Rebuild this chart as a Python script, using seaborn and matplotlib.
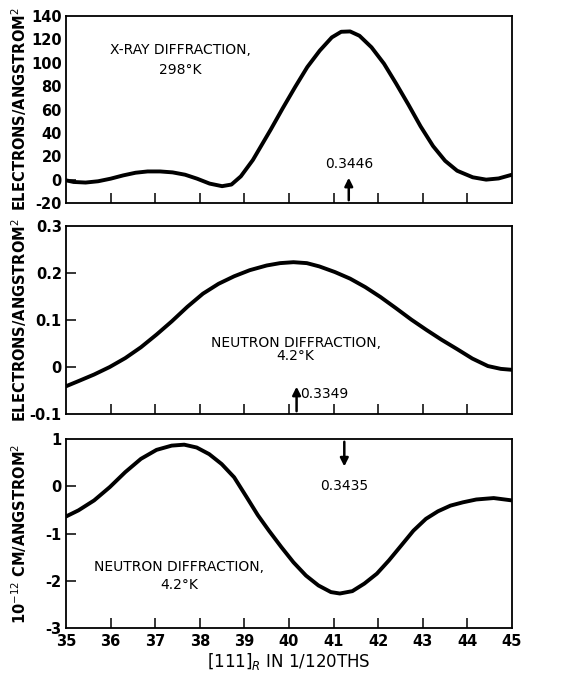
import numpy as np
import pandas as pd
import matplotlib.pyplot as plt
import seaborn as sns

# --- data ---

# X-ray diffraction, 298 K (electrons / A^2)
xray_x = [35.0, 35.17, 35.44, 35.72, 36.0, 36.28, 36.56, 36.83, 37.11, 37.39,
          37.67, 37.94, 38.22, 38.5, 38.71, 38.92, 39.19, 39.47, 39.59, 39.86,
          40.14, 40.41, 40.69, 40.96, 41.17, 41.37, 41.58, 41.85, 42.13, 42.4,
          42.68, 42.95, 43.23, 43.5, 43.77, 44.12, 44.42, 44.7, 45.0]
xray_y = [-0.6, -2.0, -2.5, -1.4, 0.8, 3.6, 5.9, 7.0, 7.0, 6.2,
          4.2, 0.8, -3.4, -5.6, -4.2, 2.8, 16.8, 35.0, 42.8, 61.1,
          79.4, 96.3, 110.4, 121.7, 126.5, 126.8, 123.1, 113.2, 99.2, 82.3,
          64.0, 45.6, 28.7, 16.1, 7.6, 2.0, 0.0, 1.0, 4.2]

# neutron diffraction, 4.2 K (electrons / A^2)
neut_x = [35.0, 35.28, 35.63, 35.98, 36.33, 36.68, 37.03, 37.37, 37.72, 38.07,
          38.42, 38.77, 39.12, 39.5, 39.8, 40.1, 40.4, 40.68, 41.03, 41.37,
          41.71, 42.05, 42.4, 42.74, 43.08, 43.42, 43.77, 44.11, 44.46, 44.75, 45.0]
neut_y = [-0.041, -0.030, -0.016, 0.0, 0.019, 0.042, 0.069, 0.097, 0.128, 0.156,
          0.177, 0.193, 0.206, 0.216, 0.221, 0.223, 0.221, 0.214, 0.202, 0.188,
          0.170, 0.149, 0.125, 0.101, 0.079, 0.058, 0.038, 0.018, 0.002, -0.004, -0.006]

# neutron diffraction, 4.2 K (1e-12 cm / A^2)
scat_x = [35.0, 35.28, 35.63, 35.98, 36.33, 36.68, 37.03, 37.37, 37.65, 37.93,
          38.21, 38.49, 38.77, 39.05, 39.3, 39.55, 39.83, 40.1, 40.38, 40.66,
          40.94, 41.14, 41.42, 41.69, 41.97, 42.24, 42.52, 42.79, 43.07, 43.34,
          43.62, 43.9, 44.2, 44.59, 45.0]
scat_y = [-0.64, -0.51, -0.30, -0.02, 0.30, 0.58, 0.77, 0.86, 0.88, 0.82,
          0.68, 0.47, 0.19, -0.23, -0.61, -0.94, -1.29, -1.61, -1.89, -2.10,
          -2.24, -2.27, -2.22, -2.06, -1.85, -1.57, -1.25, -0.94, -0.69, -0.53,
          -0.41, -0.34, -0.28, -0.25, -0.30]

# marked positions (arrows) and their labels
arrow_x = [41.34, 40.17, 41.24]
arrow_labels = ["0.3446", "0.3349", "0.3435"]

xticks = list(range(35, 46))
yticks_top = [-20, 0, 20, 40, 60, 80, 100, 120, 140]
yticks_mid = [-0.1, 0, 0.1, 0.2, 0.3]
yticklabels_mid = ["-0.1", "0", "0.1", "0.2", "0.3"]
yticks_bot = [-3, -2, -1, 0, 1]

sns.set_style("ticks")
plt.rcParams["font.family"] = ["DejaVu Sans"]
plt.rcParams["text.color"] = "black"
plt.rcParams["axes.labelcolor"] = "black"
plt.rcParams["xtick.color"] = "black"
plt.rcParams["ytick.color"] = "black"
plt.rcParams["axes.edgecolor"] = "black"

fig = plt.figure(figsize=(5.66, 6.75), dpi=100)
left, width = 66 / 566, 446 / 566
ax1 = fig.add_axes([left, 1 - 203 / 675, width, 187 / 675])
ax2 = fig.add_axes([left, 1 - 414 / 675, width, 188 / 675])
ax3 = fig.add_axes([left, 1 - 628 / 675, width, 189 / 675])

lw = 2.8
sns.lineplot(x=xray_x, y=xray_y, ax=ax1, color="black", lw=lw)
sns.lineplot(x=neut_x, y=neut_y, ax=ax2, color="black", lw=lw)
sns.lineplot(x=scat_x, y=scat_y, ax=ax3, color="black", lw=lw)

tick_font = dict(fontsize=10.5, fontweight="bold")
ann_font = dict(fontsize=10)
ylab_font = dict(fontsize=10.5, fontweight="bold")
arrow_style = dict(arrowstyle="-|>", color="black", lw=1.8, mutation_scale=12)

for ax in (ax1, ax2, ax3):
    ax.set_xlim(35, 45)
    ax.set_xticks(xticks)
    ax.tick_params(axis="both", direction="in", length=7, width=1.1, pad=3)
    for s in ax.spines.values():
        s.set_linewidth(1.3)
    ax.set_xlabel("")
    ax.lines[0].set_solid_joinstyle("round")
    ax.lines[0].set_solid_capstyle("round")

# top panel
ax1.set_ylim(-20, 140)
ax1.set_yticks(yticks_top)
ax1.set_yticklabels([str(v) for v in yticks_top], **tick_font)
ax1.set_xticklabels([])
ax1.set_ylabel("ELECTRONS/ANGSTROM$^2$", **ylab_font)
ax1.yaxis.set_label_coords(-0.082, 0.5)
ax1.text(37.57, 110.6, "X-RAY DIFFRACTION,", ha="center", va="center", **ann_font)
ax1.text(37.57, 93.8, "298°K", ha="center", va="center", **ann_font)
ax1.annotate("", xy=(arrow_x[0], 4), xytext=(arrow_x[0], -20), arrowprops=arrow_style)
ax1.text(arrow_x[0], 13, arrow_labels[0], ha="center", va="center", **ann_font)

# middle panel
ax2.set_ylim(-0.1, 0.3)
ax2.set_yticks(yticks_mid)
ax2.set_yticklabels(yticklabels_mid, **tick_font)
ax2.set_xticklabels([])
ax2.set_ylabel("ELECTRONS/ANGSTROM$^2$", **ylab_font)
ax2.yaxis.set_label_coords(-0.082, 0.5)
ax2.text(40.15, 0.051, "NEUTRON DIFFRACTION,", ha="center", va="center", **ann_font)
ax2.text(40.15, 0.023, "4.2°K", ha="center", va="center", **ann_font)
ax2.annotate("", xy=(arrow_x[1], -0.036), xytext=(arrow_x[1], -0.1), arrowprops=arrow_style)
ax2.text(arrow_x[1] + 0.08, -0.058, arrow_labels[1], ha="left", va="center", **ann_font)

# bottom panel
ax3.set_ylim(-3, 1)
ax3.set_yticks(yticks_bot)
ax3.set_yticklabels([str(v) for v in yticks_bot], **tick_font)
ax3.set_xticklabels([str(v) for v in xticks], **tick_font)
ax3.tick_params(axis="x", pad=4)
ax3.set_ylabel("10$^{-12}$ CM/ANGSTROM$^2$", **ylab_font)
ax3.yaxis.set_label_coords(-0.082, 0.5)
ax3.set_xlabel("$\\left[111\\right]_{R}$ IN 1/120THS", fontsize=12, labelpad=2)
ax3.text(37.54, -1.71, "NEUTRON DIFFRACTION,", ha="center", va="center", **ann_font)
ax3.text(37.54, -2.08, "4.2°K", ha="center", va="center", **ann_font)
ax3.annotate("", xy=(arrow_x[2], 0.36), xytext=(arrow_x[2], 1), arrowprops=arrow_style)
ax3.text(arrow_x[2], 0.0, arrow_labels[2], ha="center", va="center", **ann_font)

# only some y ticks carry a tick mark in the original
def keep_ticks(ax, values):
    for t, v in zip(ax.yaxis.get_major_ticks(), ax.get_yticks()):
        vis = any(abs(v - k) < 1e-9 for k in values)
        t.tick1line.set_visible(vis)
        t.tick2line.set_visible(False)

keep_ticks(ax1, [0])
keep_ticks(ax2, [0, 0.1, 0.2])
keep_ticks(ax3, [0, -1, -2])

for ax in (ax1, ax2, ax3):
    for t in ax.xaxis.get_major_ticks():
        t.tick2line.set_visible(False)
    ax.xaxis.get_major_ticks()[0].tick1line.set_visible(False)
    ax.xaxis.get_major_ticks()[-1].tick1line.set_visible(False)

fig.savefig("out.png", dpi=100)
